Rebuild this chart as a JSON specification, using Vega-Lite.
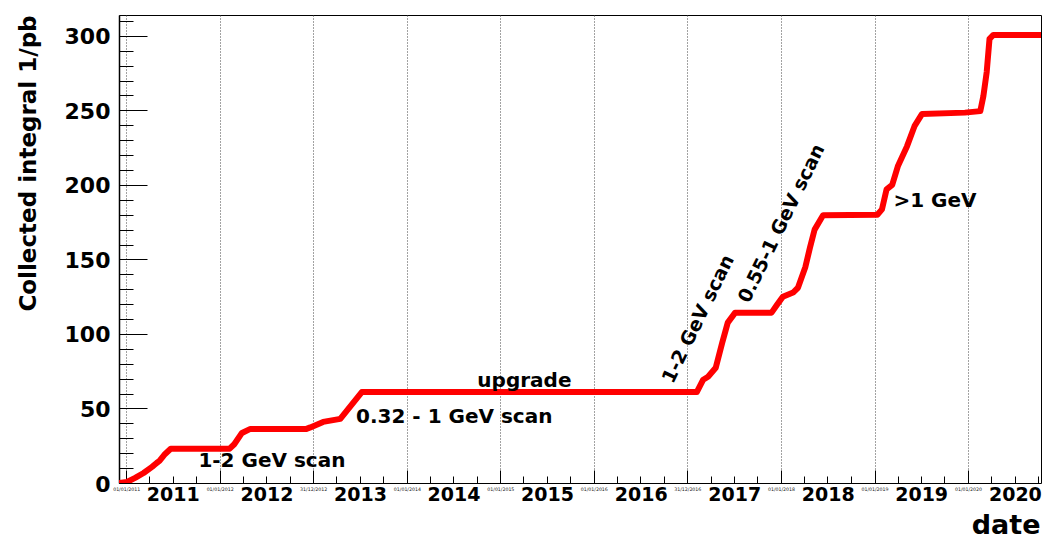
{
  "$schema": "https://vega.github.io/schema/vega-lite/v6.json",
  "autosize": {"type": "none"},
  "padding": {"left": 119, "top": 15, "right": 4, "bottom": 60},
  "width": 922,
  "height": 468,
  "background": "white",
  "datasets": {
    "lumi": [
      {"date": "2010-12-04", "lumi": 0},
      {"date": "2011-01-04", "lumi": 0.7},
      {"date": "2011-02-05", "lumi": 3.4},
      {"date": "2011-03-10", "lumi": 6.7},
      {"date": "2011-04-12", "lumi": 10.8},
      {"date": "2011-04-30", "lumi": 13.4},
      {"date": "2011-05-11", "lumi": 14.8},
      {"date": "2011-06-02", "lumi": 19.5},
      {"date": "2011-06-24", "lumi": 23},
      {"date": "2012-02-09", "lumi": 23},
      {"date": "2012-02-27", "lumi": 26},
      {"date": "2012-03-28", "lumi": 33.6},
      {"date": "2012-04-30", "lumi": 36.3},
      {"date": "2012-12-05", "lumi": 36.3},
      {"date": "2012-12-20", "lumi": 37.3},
      {"date": "2013-02-08", "lumi": 41},
      {"date": "2013-04-16", "lumi": 43},
      {"date": "2013-07-09", "lumi": 61},
      {"date": "2017-02-06", "lumi": 61},
      {"date": "2017-03-03", "lumi": 69.3},
      {"date": "2017-03-22", "lumi": 71.3},
      {"date": "2017-04-21", "lumi": 77.3},
      {"date": "2017-05-16", "lumi": 94},
      {"date": "2017-06-07", "lumi": 107.6},
      {"date": "2017-07-06", "lumi": 114.3},
      {"date": "2017-11-25", "lumi": 114.3},
      {"date": "2017-12-17", "lumi": 119.7},
      {"date": "2018-01-08", "lumi": 125},
      {"date": "2018-02-17", "lumi": 127.8},
      {"date": "2018-03-08", "lumi": 131},
      {"date": "2018-04-06", "lumi": 145},
      {"date": "2018-04-24", "lumi": 158},
      {"date": "2018-05-12", "lumi": 170},
      {"date": "2018-06-14", "lumi": 179.6},
      {"date": "2019-01-12", "lumi": 180},
      {"date": "2019-01-30", "lumi": 183.6},
      {"date": "2019-02-17", "lumi": 197},
      {"date": "2019-03-11", "lumi": 200},
      {"date": "2019-04-02", "lumi": 212.5},
      {"date": "2019-05-08", "lumi": 226},
      {"date": "2019-06-06", "lumi": 239.4},
      {"date": "2019-07-05", "lumi": 247.5},
      {"date": "2019-12-20", "lumi": 248.5},
      {"date": "2020-02-18", "lumi": 249.5},
      {"date": "2020-03-01", "lumi": 259.6},
      {"date": "2020-03-14", "lumi": 275.7},
      {"date": "2020-03-25", "lumi": 298},
      {"date": "2020-04-09", "lumi": 300.6},
      {"date": "2020-10-12", "lumi": 300.6}
    ],
    "notes": [
      {"date": "2012-07-23", "lumi": 10.8, "label": "1-2 GeV scan"},
      {"date": "2014-07-05", "lumi": 40.3, "label": "0.32 - 1 GeV scan"},
      {"date": "2015-04-05", "lumi": 64.6, "label": "upgrade"},
      {"date": "2019-08-25", "lumi": 185, "label": ">1 GeV"}
    ],
    "rotnotes": [
      {"date": "2017-02-12", "lumi": 110, "label": "1-2 GeV scan"},
      {"date": "2018-01-03", "lumi": 174.2, "label": "0.55-1 GeV scan"}
    ]
  },
  "layer": [
    {
      "data": {"name": "lumi"},
      "mark": {"type": "line", "color": "#ff0000", "strokeWidth": 6, "strokeCap": "round", "strokeJoin": "round", "clip": true},
      "encoding": {
        "x": {
          "field": "date", "type": "temporal",
          "scale": {"type": "utc", "domain": [{"year": 2010, "month": 12, "date": 4, "utc": true}, {"year": 2020, "month": 10, "date": 12, "utc": true}]},
          "axis": {
            "orient": "bottom", "title": null, "labels": false, "domain": false,
            "values": [
              {"year": 2011, "month": 1, "date": 1, "utc": true},
              {"year": 2012, "month": 1, "date": 1, "utc": true},
              {"year": 2012, "month": 12, "date": 31, "utc": true},
              {"year": 2014, "month": 1, "date": 1, "utc": true},
              {"year": 2015, "month": 1, "date": 1, "utc": true},
              {"year": 2016, "month": 1, "date": 1, "utc": true},
              {"year": 2016, "month": 12, "date": 31, "utc": true},
              {"year": 2018, "month": 1, "date": 1, "utc": true},
              {"year": 2019, "month": 1, "date": 1, "utc": true},
              {"year": 2020, "month": 1, "date": 1, "utc": true}
            ],
            "tickSize": -13, "tickColor": "black", "tickWidth": 1,
            "grid": true, "gridColor": "#444444", "gridDash": [1, 2], "gridWidth": 1, "gridOpacity": 1
          }
        },
        "y": {
          "field": "lumi", "type": "quantitative",
          "scale": {"domain": [0, 314], "nice": false, "zero": true},
          "axis": {
            "orient": "left", "title": null, "labels": false, "grid": false,
            "values": [0, 50, 100, 150, 200, 250, 300],
            "tickSize": -28, "tickColor": "black", "tickWidth": 1,
            "domain": true, "domainColor": "black", "domainWidth": 1.5
          }
        }
      }
    },
    {
      "data": {"name": "notes"},
      "mark": {"type": "text", "font": "DejaVu Sans", "fontWeight": "bold", "fontSize": 20, "color": "black", "align": "center", "baseline": "alphabetic"},
      "encoding": {
        "x": {
          "field": "date", "type": "temporal",
          "axis": {
            "orient": "bottom", "title": null, "labels": false, "domain": false, "grid": false,
            "values": [
              {"year": 2011, "month": 4, "date": 1, "utc": true}, {"year": 2011, "month": 7, "date": 1, "utc": true}, {"year": 2011, "month": 10, "date": 1, "utc": true},
              {"year": 2012, "month": 4, "date": 1, "utc": true}, {"year": 2012, "month": 7, "date": 1, "utc": true}, {"year": 2012, "month": 10, "date": 1, "utc": true},
              {"year": 2013, "month": 4, "date": 1, "utc": true}, {"year": 2013, "month": 7, "date": 1, "utc": true}, {"year": 2013, "month": 10, "date": 1, "utc": true},
              {"year": 2014, "month": 4, "date": 1, "utc": true}, {"year": 2014, "month": 7, "date": 1, "utc": true}, {"year": 2014, "month": 10, "date": 1, "utc": true},
              {"year": 2015, "month": 4, "date": 1, "utc": true}, {"year": 2015, "month": 7, "date": 1, "utc": true}, {"year": 2015, "month": 10, "date": 1, "utc": true},
              {"year": 2016, "month": 4, "date": 1, "utc": true}, {"year": 2016, "month": 7, "date": 1, "utc": true}, {"year": 2016, "month": 10, "date": 1, "utc": true},
              {"year": 2017, "month": 4, "date": 1, "utc": true}, {"year": 2017, "month": 7, "date": 1, "utc": true}, {"year": 2017, "month": 10, "date": 1, "utc": true},
              {"year": 2018, "month": 4, "date": 1, "utc": true}, {"year": 2018, "month": 7, "date": 1, "utc": true}, {"year": 2018, "month": 10, "date": 1, "utc": true},
              {"year": 2019, "month": 4, "date": 1, "utc": true}, {"year": 2019, "month": 7, "date": 1, "utc": true}, {"year": 2019, "month": 10, "date": 1, "utc": true},
              {"year": 2020, "month": 4, "date": 1, "utc": true}, {"year": 2020, "month": 7, "date": 1, "utc": true}, {"year": 2020, "month": 10, "date": 1, "utc": true}
            ],
            "tickSize": -7, "tickColor": "black", "tickWidth": 1
          }
        },
        "y": {
          "field": "lumi", "type": "quantitative",
          "axis": {
            "orient": "left", "title": null, "labels": false, "grid": false, "domain": false,
            "values": [10, 20, 30, 40, 60, 70, 80, 90, 110, 120, 130, 140, 160, 170, 180, 190, 210, 220, 230, 240, 260, 270, 280, 290, 310],
            "tickSize": -14, "tickColor": "black", "tickWidth": 1
          }
        },
        "text": {"field": "label"}
      }
    },
    {
      "data": {"name": "rotnotes"},
      "mark": {"type": "text", "font": "DejaVu Sans", "fontWeight": "bold", "fontSize": 19, "color": "black", "align": "center", "baseline": "middle", "angle": -64},
      "encoding": {
        "x": {
          "field": "date", "type": "temporal",
          "axis": {
            "orient": "bottom", "domain": false, "grid": false, "ticks": false,
            "values": [
              {"year": 2011, "month": 7, "date": 2, "utc": true},
              {"year": 2012, "month": 7, "date": 2, "utc": true},
              {"year": 2013, "month": 7, "date": 2, "utc": true},
              {"year": 2014, "month": 7, "date": 2, "utc": true},
              {"year": 2015, "month": 7, "date": 2, "utc": true},
              {"year": 2016, "month": 7, "date": 2, "utc": true},
              {"year": 2017, "month": 7, "date": 2, "utc": true},
              {"year": 2018, "month": 7, "date": 2, "utc": true},
              {"year": 2019, "month": 7, "date": 2, "utc": true},
              {"year": 2020, "month": 7, "date": 2, "utc": true}
            ],
            "labelExpr": "utcFormat(datum.value, '%Y')",
            "labelFont": "DejaVu Sans", "labelFontWeight": "bold", "labelFontSize": 19, "labelColor": "black",
            "labelBaseline": "alphabetic", "labelPadding": 17, "labelOverlap": false, "labelFlush": false,
            "title": "date", "titleFont": "DejaVu Sans", "titleFontWeight": "bold", "titleFontSize": 27, "titleColor": "black",
            "titleAnchor": "end", "titleAlign": "right", "titleBaseline": "alphabetic", "titleX": 921, "titleY": 50
          }
        },
        "y": {
          "field": "lumi", "type": "quantitative",
          "axis": {
            "orient": "left", "grid": false, "domain": false, "ticks": false,
            "values": [0, 50, 100, 150, 200, 250, 300],
            "labelFont": "DejaVu Sans", "labelFontWeight": "bold", "labelFontSize": 22, "labelColor": "black",
            "labelPadding": 9, "labelOffset": 1,
            "title": "Collected integral 1/pb", "titleFont": "DejaVu Sans", "titleFontWeight": "bold", "titleFontSize": 23, "titleColor": "black",
            "titleAngle": -90, "titleAlign": "center", "titleBaseline": "middle", "titleX": -91, "titleY": 148
          }
        },
        "text": {"field": "label"}
      }
    },
    {
      "data": {"name": "lumi"},
      "mark": {"type": "point", "opacity": 0},
      "encoding": {
        "x": {
          "field": "date", "type": "temporal",
          "axis": {
            "orient": "bottom", "title": null, "domain": false, "grid": false, "ticks": false,
            "values": [
              {"year": 2011, "month": 1, "date": 1, "utc": true},
              {"year": 2012, "month": 1, "date": 1, "utc": true},
              {"year": 2012, "month": 12, "date": 31, "utc": true},
              {"year": 2014, "month": 1, "date": 1, "utc": true},
              {"year": 2015, "month": 1, "date": 1, "utc": true},
              {"year": 2016, "month": 1, "date": 1, "utc": true},
              {"year": 2016, "month": 12, "date": 31, "utc": true},
              {"year": 2018, "month": 1, "date": 1, "utc": true},
              {"year": 2019, "month": 1, "date": 1, "utc": true},
              {"year": 2020, "month": 1, "date": 1, "utc": true}
            ],
            "labelExpr": "utcFormat(datum.value, '%d/%m/%Y')",
            "labelFont": "DejaVu Sans", "labelFontSize": 4.7, "labelColor": "#222222",
            "labelBaseline": "alphabetic", "labelPadding": 7, "labelOverlap": false, "labelFlush": false
          }
        },
        "y": {"field": "lumi", "type": "quantitative", "axis": null}
      }
    }
  ],
  "resolve": {"axis": {"x": "independent", "y": "independent"}},
  "config": {
    "view": {"stroke": "black", "strokeWidth": 1},
    "axis": {"zindex": 1}
  }
}
